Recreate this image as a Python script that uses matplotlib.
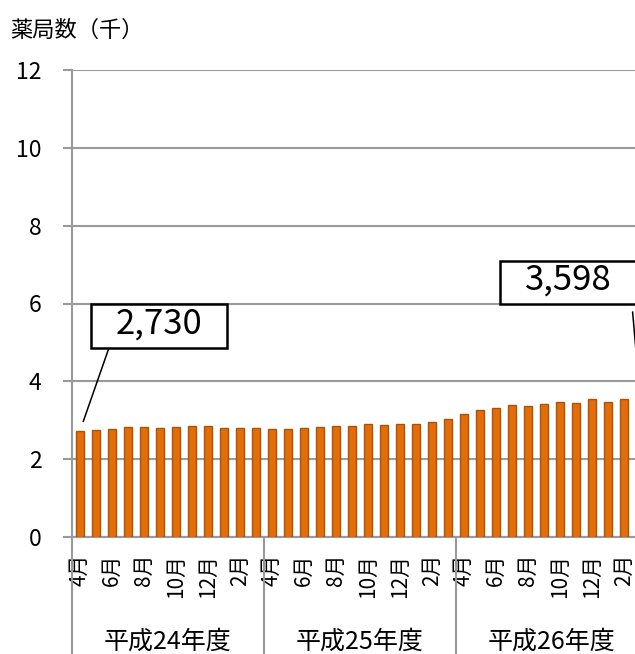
import matplotlib
matplotlib.use("Agg")
import matplotlib.pyplot as plt
import matplotlib.transforms as mtransforms
from matplotlib.path import Path
import numpy as np

plt.rcParams['font.family'] = ['Noto Sans CJK JP', 'DejaVu Sans']

# Monthly pharmacy counts (thousands), fiscal years H24-H26, April to March
fiscal_years = ['平成24年度', '平成25年度', '平成26年度']
month_labels = ['4月', '5月', '6月', '7月', '8月', '9月', '10月', '11月',
                '12月', '1月', '2月', '3月']
pharmacies_h24 = [2.730, 2.757, 2.780, 2.830, 2.830, 2.810, 2.830, 2.860,
                  2.845, 2.810, 2.790, 2.800]
pharmacies_h25 = [2.775, 2.780, 2.800, 2.820, 2.850, 2.850, 2.895, 2.870,
                  2.895, 2.895, 2.960, 3.030]
pharmacies_h26 = [3.150, 3.260, 3.310, 3.400, 3.360, 3.410, 3.460, 3.450,
                  3.550, 3.480, 3.540, 3.598]
y_ticks = [0, 2, 4, 6, 8, 10, 12]

values = pharmacies_h24 + pharmacies_h25 + pharmacies_h26
n = len(values)
x = np.arange(n)

GRAY = '#9A9A9A'
BAR = '#E46C0A'
BAR_EDGE = '#A8540A'

fig = plt.figure(figsize=(6.35, 6.54), dpi=100)
# the category axis runs a little past the right edge of the canvas
ax = fig.add_axes([72 / 635, 117 / 654, 576 / 635, 467 / 654])

ax.bar(x, values, width=0.5, color=BAR, edgecolor=BAR_EDGE, linewidth=1.0,
       zorder=3)
ax.set_xlim(-0.5, n - 0.5)
ax.set_ylim(y_ticks[0], y_ticks[-1])
ax.set_yticks(y_ticks)
ax.grid(axis='y', color=GRAY, linewidth=1.5, zorder=0)
ax.set_axisbelow(True)

for side in ('top', 'right'):
    ax.spines[side].set_visible(False)
for side in ('left', 'bottom'):
    ax.spines[side].set_color(GRAY)
    ax.spines[side].set_linewidth(1.5)

ax.tick_params(axis='y', length=6.8, width=1.5, color=GRAY, pad=15,
               labelsize=16.5)

# month labels on every other bar
shown = x[::2]
ax.set_xticks(shown)
ax.set_xticklabels([month_labels[i % 12] for i in shown], rotation=90,
                   va='top', ha='center')
ax.tick_params(axis='x', length=0, pad=12, labelsize=15)

# fiscal-year grouping below the month labels
blend = mtransforms.blended_transform_factory(ax.transData, ax.transAxes)
for k in range(len(fiscal_years) + 1):
    b = 12 * k - 0.5
    ax.plot([b, b], [0, -0.27], transform=blend, color=GRAY, lw=1.5,
            clip_on=False, zorder=1)
for k, fy in enumerate(fiscal_years):
    ax.text(12 * k + 5.5, -0.2248, fy, transform=blend, ha='center',
            va='center', fontsize=18)

fig.text(10 / 635, 1 - 30 / 654, '薬局数（千）', ha='left', va='center',
         fontsize=16)


def callout_frame(x0, y0, width, height, mutation_size):
    """Rectangular frame with wide side margins around a value label."""
    cx = x0 + width / 2
    cy = y0 + height / 2 - 0.07 * mutation_size
    hw = width / 2 + 0.72 * mutation_size
    hh = 0.63 * mutation_size
    return Path([(cx - hw, cy - hh), (cx + hw, cy - hh), (cx + hw, cy + hh),
                 (cx - hw, cy + hh), (cx - hw, cy - hh)], closed=True)


# (bar index, label offset, leader start offset, leader gap at box)
callouts = [
    (0, (79, 107), (29, 83), 0),
    (n - 1, (-72, 117), (-8, 92), 5),
]
for idx, label_off, leader_off, gap in callouts:
    val = values[idx]
    ax.annotate('', xy=(idx, val), xytext=leader_off,
                textcoords='offset pixels', zorder=4,
                arrowprops=dict(arrowstyle='-', color='black', lw=1.1,
                                shrinkA=gap, shrinkB=7))
    ax.annotate(f'{int(round(val * 1000)):,}', xy=(idx, val),
                xytext=label_off, textcoords='offset pixels',
                ha='center', va='center', fontsize=25, zorder=5,
                bbox=dict(boxstyle=callout_frame, fc='white', ec='black',
                          lw=1.8))

fig.savefig('out.png', dpi=100)
